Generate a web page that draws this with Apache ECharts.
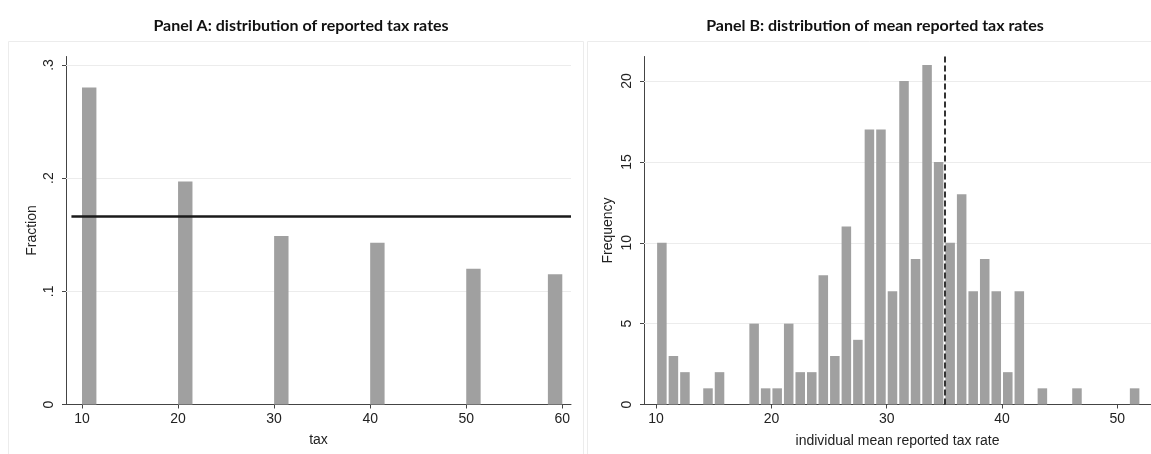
<!DOCTYPE html>
<html><head><meta charset="utf-8">
<script src="https://cdn.jsdelivr.net/npm/echarts@6/dist/echarts.min.js"></script>
<style>html,body{margin:0;padding:0;background:#fff}#c{width:1151px;height:454px}</style>
</head><body><div id="c"></div>
<script>
// ---- Panel A data ----
const taxRates = [10, 20, 30, 40, 50, 60];
const taxBinStart = [10, 20, 30, 40, 50, 58.5];
const taxBinWidth = 1.5;
const taxFractions = [0.280, 0.197, 0.149, 0.143, 0.120, 0.115];
const uniformShare = 1 / 6;
const panelAYTicks = [0, 0.1, 0.2, 0.3];
const panelAXTicks = [10, 20, 30, 40, 50, 60];

// ---- Panel B data ----
const meanBinStart = [10, 11, 12, 13, 14, 15, 16, 17, 18, 19, 20, 21, 22, 23, 24, 25, 26, 27, 28, 29, 30,
  31, 32, 33, 34, 35, 36, 37, 38, 39, 40, 41, 42, 43, 44, 45, 46, 47, 48, 49, 50, 51];
const meanFrequencies = [10, 3, 2, 0, 1, 2, 0, 0, 5, 1, 1, 5, 2, 2, 8, 3, 11, 4, 17, 17, 7,
  20, 9, 21, 15, 10, 13, 7, 9, 7, 2, 7, 0, 1, 0, 0, 1, 0, 0, 0, 0, 1];
const meanBinWidth = 1;
const referenceRate = 35;
const panelBYTicks = [0, 5, 10, 15, 20];
const panelBXTicks = [10, 20, 30, 40, 50];

const TEXT = '#222';
const AXIS = '#444';
const BAR = '#a0a0a0';
const GRID = '#ececec';
const FONT = '"Liberation Sans", Arial, sans-serif';
const A_YMAX = 0.3075, B_YMAX = 21.52;

function fmtA(v) { return v === 0 ? '0' : '.' + Math.round(v * 10); }

function makeBars(inset) {
  return function (params, api) {
    const x0 = api.value(0), w = api.value(1), v = api.value(2);
    if (!v) return null;
    const p0 = api.coord([x0, 0]);
    const p1 = api.coord([x0 + w, v]);
    return {
      type: 'rect',
      shape: { x: p0[0] + inset, y: p1[1], width: p1[0] - p0[0] - 2 * inset, height: p0[1] - p1[1] },
      style: { fill: BAR }
    };
  };
}

function axisCommon(ticks, fmt, isY) {
  return {
    axisLine: { show: true, lineStyle: { color: AXIS, width: 1 } },
    axisTick: { show: true, length: 4, lineStyle: { color: AXIS }, customValues: ticks },
    axisLabel: {
      customValues: ticks, color: TEXT, fontSize: 14, fontFamily: FONT,
      formatter: fmt, rotate: isY ? 90 : 0, margin: isY ? 10 : 8
    },
    splitLine: { show: false },
    nameTextStyle: { color: TEXT, fontSize: 14, fontFamily: FONT }
  };
}

const chart = echarts.init(document.getElementById('c'), null, { renderer: 'canvas' });
chart.setOption({
  animation: false,
  backgroundColor: '#fff',
  title: [
    { text: 'Panel A: distribution of reported tax rates', left: 296, top: 13, textAlign: 'center',
      textStyle: { fontFamily: 'Lato, "Open Sans", sans-serif', fontWeight: 'bold', fontSize: 16, color: '#111' } },
    { text: 'Panel B: distribution of mean reported tax rates', left: 870, top: 13, textAlign: 'center',
      textStyle: { fontFamily: 'Lato, "Open Sans", sans-serif', fontWeight: 'bold', fontSize: 16, color: '#111' } }
  ],
  graphic: [
    { type: 'rect', silent: true, z: -10, shape: { x: 8.5, y: 41.5, width: 575, height: 420 },
      style: { fill: null, stroke: '#ececec', lineWidth: 1 } },
    { type: 'rect', silent: true, z: -10, shape: { x: 587.5, y: 41.5, width: 570, height: 420 },
      style: { fill: null, stroke: '#ececec', lineWidth: 1 } }
  ],
  grid: [
    { left: 66, top: 56.5, width: 505, height: 348 },
    { left: 644, top: 56.5, width: 507, height: 348 }
  ],
  xAxis: [
    Object.assign(axisCommon(panelAXTicks, null, false), {
      type: 'value', gridIndex: 0, min: 8.334, max: 60.906,
      name: 'tax', nameLocation: 'middle', nameGap: 29
    }),
    Object.assign(axisCommon(panelBXTicks, null, false), {
      type: 'value', gridIndex: 1, min: 8.95, max: 52.92,
      name: 'individual mean reported tax rate', nameLocation: 'middle', nameGap: 30
    })
  ],
  yAxis: [
    Object.assign(axisCommon(panelAYTicks, fmtA, true), {
      type: 'value', gridIndex: 0, min: 0, max: A_YMAX,
      name: 'Fraction', nameLocation: 'middle', nameGap: 27
    }),
    Object.assign(axisCommon(panelBYTicks, null, true), {
      type: 'value', gridIndex: 1, min: 0, max: B_YMAX,
      name: 'Frequency', nameLocation: 'middle', nameGap: 29
    })
  ],
  series: [
    { type: 'line', xAxisIndex: 0, yAxisIndex: 0, data: [], z: 1, silent: true,
      markLine: { z: 1, silent: true, symbol: 'none', label: { show: false },
        lineStyle: { color: GRID, type: 'solid', width: 1 },
        data: panelAYTicks.filter(v => v > 0).map(v => ({ yAxis: v })) } },
    { type: 'line', xAxisIndex: 1, yAxisIndex: 1, data: [], z: 1, silent: true,
      markLine: { z: 1, silent: true, symbol: 'none', label: { show: false },
        lineStyle: { color: GRID, type: 'solid', width: 1 },
        data: panelBYTicks.filter(v => v > 0).map(v => ({ yAxis: v })) } },
    { type: 'custom', xAxisIndex: 0, yAxisIndex: 0, z: 3,
      renderItem: makeBars(0), encode: { x: 0, y: 2 },
      data: taxBinStart.map((s, i) => [s, taxBinWidth, taxFractions[i], taxRates[i]]),
      markLine: { z: 6, silent: true, symbol: 'none', label: { show: false },
        lineStyle: { color: '#1a1a1a', type: 'solid', width: 2.5 },
        data: [[{ coord: [8.9, uniformShare] }, { coord: [60.906, uniformShare] }]] } },
    { type: 'custom', xAxisIndex: 1, yAxisIndex: 1, z: 3,
      renderItem: makeBars(1), encode: { x: 0, y: 2 },
      data: meanBinStart.map((s, i) => [s, meanBinWidth, meanFrequencies[i]]),
      markLine: { z: 6, silent: true, symbol: 'none', label: { show: false },
        lineStyle: { color: '#333', type: [6, 3], width: 2 },
        data: [[{ coord: [referenceRate, 0] }, { coord: [referenceRate, B_YMAX] }]] } }
  ]
});
</script>
</body></html>
